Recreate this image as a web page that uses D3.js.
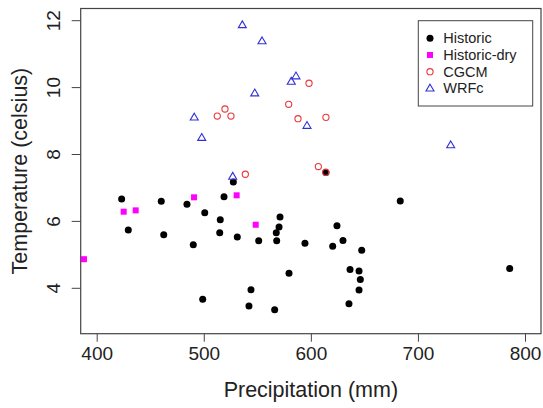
<!DOCTYPE html>
<html><head><meta charset="utf-8">
<script src="https://cdn.jsdelivr.net/npm/d3@7"></script>
<style>body{margin:0;background:#fff}svg{display:block}text{font-family:"Liberation Sans",Arial,sans-serif;fill:#222}</style>
</head><body>
<script>
const historicX=[423.3,429.5,460.3,462.6,484.3,490.2,500.9,499.0,515.4,514.9,518.9,527.6,531.3,544.1,542.2,551.3,571.2,570.3,567.7,568.1,566.2,579.6,594.5,614.1,683.5,624.4,620.4,630.0,647.5,636.6,645.0,646.2,645.0,635.6,785.7];
const historicY=[6.67,5.74,6.60,5.60,6.51,5.30,6.26,3.67,6.05,5.66,6.74,7.18,5.53,3.96,3.47,5.42,6.13,5.83,5.66,5.42,3.36,4.45,5.35,7.46,6.61,5.87,5.26,5.43,5.14,4.56,4.52,4.26,3.95,3.54,4.59];
const dryX=[388.1,425.2,436.4,490.9,530.7,548.5];
const dryY=[4.87,6.29,6.33,6.72,6.78,5.90];
const cgcmX=[598.3,519.8,512.6,525.4,579.3,588.0,614.1,538.8,607.0,613.9];
const cgcmY=[10.13,9.36,9.15,9.15,9.50,9.07,9.11,7.41,7.64,7.47];
const wrfX=[536.0,554.4,586.1,581.7,547.6,491.1,596.4,498.1,527.0,730.6];
const wrfY=[11.87,11.39,10.34,10.18,9.83,9.11,8.86,8.50,7.34,8.28];
const xTicks=[400,500,600,700,800];
const yTicks=[4,6,8,10,12];
const legendLabels=["Historic","Historic-dry","CGCM","WRFc"];

const W=543,H=408;
const box={l:80.7,r:541,t:8.5,b:333.7};
const x=d3.scaleLinear().domain([400,800]).range([96.7,525]);
const y=d3.scaleLinear().domain([4,12]).range([288.3,20.7]);
const svg=d3.select("body").append("svg").attr("width",W).attr("height",H);

// axes
const xa=svg.append("g").attr("transform",`translate(0,${box.b})`)
  .call(d3.axisBottom(x).tickValues(xTicks).tickSize(8).tickPadding(5).tickFormat(d3.format("d")));
const ya=svg.append("g").attr("transform",`translate(${box.l},0)`)
  .call(d3.axisLeft(y).tickValues(yTicks).tickSize(9).tickPadding(4).tickFormat(d3.format("d")));
[xa,ya].forEach(g=>{g.select(".domain").remove();g.selectAll("line").attr("stroke","#444");
  g.selectAll("text").attr("font-size",19).attr("fill","#222").style("font-family","Liberation Sans, Arial, sans-serif");});
ya.selectAll("text").attr("text-anchor","middle").attr("dy",0).attr("x",0)
  .attr("transform",function(d){return `translate(${-21},${y(d)}) rotate(-90)`;}).attr("y",0);
ya.selectAll(".tick").attr("transform",null);
ya.selectAll(".tick line").attr("transform",d=>`translate(0,${y(d)})`);

// box
svg.append("rect").attr("x",box.l).attr("y",box.t).attr("width",box.r-box.l).attr("height",box.b-box.t)
  .attr("fill","none").attr("stroke","#444").attr("stroke-width",1.2);

// titles
svg.append("text").attr("x",(box.l+box.r)/2).attr("y",397).attr("text-anchor","middle").attr("font-size",21.5).text("Precipitation (mm)");
svg.append("text").attr("transform",`translate(27,${(box.t+box.b)/2}) rotate(-90)`).attr("text-anchor","middle").attr("font-size",21.5).text("Temperature (celsius)");

const red="#e8393c", blue="#3030d8", mag="#ff00ff";
const tri=d3.symbol().type(d3.symbolTriangle).size(26);
function drawTri(g,cx,cy){g.append("path").attr("d","M0,-4.2L4,2.6L-4,2.6Z").attr("transform",`translate(${cx},${cy})`).attr("fill","none").attr("stroke",blue).attr("stroke-width",1.1);}

const pts=svg.append("g");
historicX.forEach((v,i)=>pts.append("circle").attr("cx",x(v)).attr("cy",y(historicY[i])).attr("r",3.5).attr("fill","#000"));
dryX.forEach((v,i)=>pts.append("rect").attr("x",x(v)-3).attr("y",y(dryY[i])-3).attr("width",6).attr("height",6).attr("fill",mag));
cgcmX.forEach((v,i)=>pts.append("circle").attr("cx",x(v)).attr("cy",y(cgcmY[i])).attr("r",3.1).attr("fill","none").attr("stroke",red).attr("stroke-width",1.1));
wrfX.forEach((v,i)=>drawTri(pts,x(v),y(wrfY[i])));

// legend
const lg=svg.append("g");
lg.append("rect").attr("x",418.3).attr("y",20.7).attr("width",114.4).attr("height",85.3).attr("fill","#fff").attr("stroke","#444").attr("stroke-width",1);
legendLabels.forEach((lab,i)=>{
  const cy=38.3+i*16.7, cx=430;
  if(i===0) lg.append("circle").attr("cx",cx).attr("cy",cy).attr("r",3.5).attr("fill","#000");
  if(i===1) lg.append("rect").attr("x",cx-3).attr("y",cy-3).attr("width",6).attr("height",6).attr("fill",mag);
  if(i===2) lg.append("circle").attr("cx",cx).attr("cy",cy).attr("r",3.1).attr("fill","none").attr("stroke",red).attr("stroke-width",1.1);
  if(i===3) drawTri(lg,cx,cy);
  lg.append("text").attr("x",443.3).attr("y",cy+5).attr("font-size",14.5).text(lab);
});
</script>
</body></html>
